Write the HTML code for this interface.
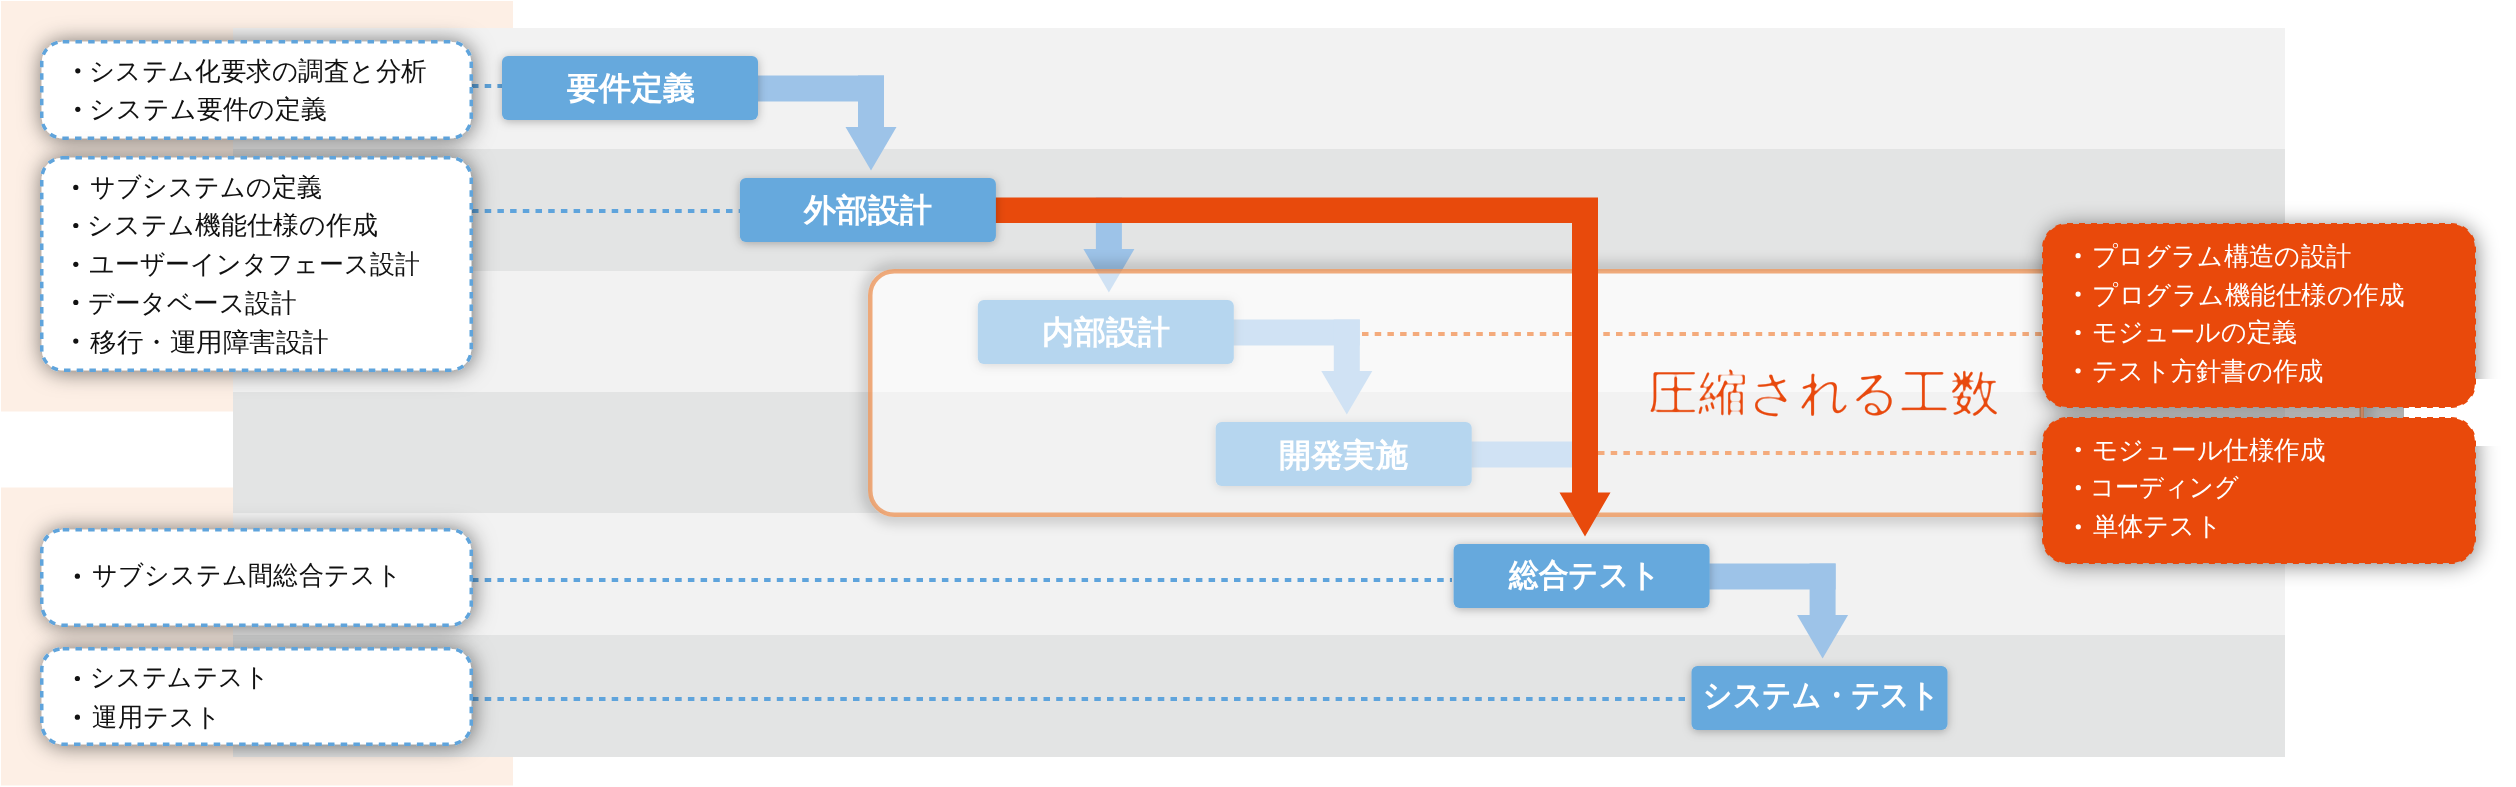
<!DOCTYPE html>
<html lang="ja"><head><meta charset="utf-8"><title>diagram</title>
<style>html,body{margin:0;padding:0;background:#fff;width:2516px;height:787px;overflow:hidden}
svg{display:block;font-family:"Liberation Sans",sans-serif;will-change:transform}</style></head>
<body><svg width="2516" height="787" viewBox="0 0 2516 787">
<defs>
<filter id="sh1" x="-20%" y="-40%" width="140%" height="180%"><feDropShadow dx="1" dy="1" stdDeviation="11" flood-color="#000" flood-opacity="0.55"/></filter>
<filter id="sh2" x="-20%" y="-40%" width="140%" height="180%"><feDropShadow dx="0" dy="1.5" stdDeviation="5" flood-color="#000" flood-opacity="0.28"/></filter>
<filter id="sh3" x="-20%" y="-40%" width="140%" height="180%"><feDropShadow dx="1" dy="3" stdDeviation="8" flood-color="#000" flood-opacity="0.3"/></filter>
<filter id="blur8" x="-20%" y="-40%" width="140%" height="180%"><feGaussianBlur stdDeviation="7"/></filter>
<filter id="thin" x="-5%" y="-20%" width="110%" height="140%"><feGaussianBlur stdDeviation="0.8"/><feComponentTransfer><feFuncA type="linear" slope="3" intercept="-1.4"/></feComponentTransfer></filter>
<filter id="blur8b" x="-20%" y="-40%" width="140%" height="180%"><feGaussianBlur stdDeviation="11"/></filter>
<mask id="outside"><rect x="0" y="0" width="2516" height="787" fill="#fff"/><rect x="868" y="269" width="1496" height="248" rx="26" fill="#000"/></mask>
</defs>
<rect x="1" y="1" width="512" height="410.5" fill="#fdefe5"/>
<rect x="1" y="487.5" width="512" height="298" fill="#fdefe5"/>
<rect x="233" y="28" width="2052" height="121" fill="#f2f2f2"/>
<rect x="233" y="149" width="2052" height="122" fill="#e3e4e4"/>
<rect x="233" y="271" width="2052" height="121" fill="#f2f2f2"/>
<rect x="233" y="392" width="2052" height="121" fill="#e3e4e4"/>
<rect x="233" y="513" width="2052" height="122" fill="#f2f2f2"/>
<rect x="233" y="635" width="2052" height="122" fill="#e3e4e4"/>
<line x1="472" y1="86" x2="502" y2="86" stroke="#5fa4dc" stroke-width="4" stroke-dasharray="6.5 6.2"/>
<line x1="472" y1="211" x2="740" y2="211" stroke="#5fa4dc" stroke-width="4" stroke-dasharray="6.5 6.2"/>
<line x1="472" y1="580" x2="1452" y2="580" stroke="#5fa4dc" stroke-width="4" stroke-dasharray="6.5 6.2"/>
<line x1="472" y1="699" x2="1688" y2="699" stroke="#5fa4dc" stroke-width="4" stroke-dasharray="6.5 6.2"/>
<rect x="41.75" y="41.75" width="429.5" height="96.5" rx="21" ry="21" fill="#fff" stroke="#5fa4dc" stroke-width="3.5" stroke-dasharray="6.5 6.2" filter="url(#sh1)"/>
<rect x="41.75" y="157.75" width="429.5" height="212.5" rx="21" ry="21" fill="#fff" stroke="#5fa4dc" stroke-width="3.5" stroke-dasharray="6.5 6.2" filter="url(#sh1)"/>
<rect x="41.75" y="529.75" width="429.5" height="95.5" rx="21" ry="21" fill="#fff" stroke="#5fa4dc" stroke-width="3.5" stroke-dasharray="6.5 6.2" filter="url(#sh1)"/>
<rect x="41.75" y="648.75" width="429.5" height="95.5" rx="21" ry="21" fill="#fff" stroke="#5fa4dc" stroke-width="3.5" stroke-dasharray="6.5 6.2" filter="url(#sh1)"/>
<text x="89.00" y="79.96" font-size="26" fill="#111" font-weight="normal" textLength="337.61" lengthAdjust="spacingAndGlyphs">システム化要求の調査と分析</text>
<text x="89.00" y="118.46" font-size="26" fill="#111" font-weight="normal" textLength="238.18" lengthAdjust="spacingAndGlyphs">システム要件の定義</text>
<text x="90.00" y="196.16" font-size="26" fill="#111" font-weight="normal" textLength="232.52" lengthAdjust="spacingAndGlyphs">サブシステムの定義</text>
<text x="87.00" y="234.36" font-size="26" fill="#111" font-weight="normal" textLength="290.58" lengthAdjust="spacingAndGlyphs">システム機能仕様の作成</text>
<text x="89.00" y="273.46" font-size="26" fill="#111" font-weight="normal" textLength="330.64" lengthAdjust="spacingAndGlyphs">ユーザーインタフェース設計</text>
<text x="88.00" y="311.66" font-size="26" fill="#111" font-weight="normal" textLength="208.34" lengthAdjust="spacingAndGlyphs">データベース設計</text>
<text x="90.00" y="351.06" font-size="26" fill="#111" font-weight="normal" textLength="238.91" lengthAdjust="spacingAndGlyphs">移行・運用障害設計</text>
<text x="92.40" y="584.26" font-size="26" fill="#111" font-weight="normal" textLength="309.23" lengthAdjust="spacingAndGlyphs">サブシステム間総合テスト</text>
<text x="90.40" y="686.36" font-size="26" fill="#111" font-weight="normal" textLength="179.07" lengthAdjust="spacingAndGlyphs">システムテスト</text>
<text x="92.40" y="726.26" font-size="26" fill="#111" font-weight="normal" textLength="129.02" lengthAdjust="spacingAndGlyphs">運用テスト</text>
<circle cx="77.8" cy="70.8" r="2.6" fill="#111"/>
<circle cx="77.8" cy="109.3" r="2.6" fill="#111"/>
<circle cx="75.8" cy="187.4" r="2.6" fill="#111"/>
<circle cx="75.8" cy="225.5" r="2.6" fill="#111"/>
<circle cx="75.8" cy="264.3" r="2.6" fill="#111"/>
<circle cx="75.8" cy="302.4" r="2.6" fill="#111"/>
<circle cx="75.8" cy="341.1" r="2.6" fill="#111"/>
<circle cx="77.4" cy="576.2" r="2.6" fill="#111"/>
<circle cx="77.4" cy="678.5" r="2.6" fill="#111"/>
<circle cx="77.4" cy="717.2" r="2.6" fill="#111"/>
<rect x="754" y="75.5" width="130" height="26" fill="#9dc3e8"/><rect x="858" y="75.5" width="26" height="51.5" fill="#9dc3e8"/><polygon points="845.5,127 896.5,127 871,170.5" fill="#9dc3e8"/>
<rect x="1095.9" y="197.5" width="26" height="51.5" fill="#9dc3e8"/><polygon points="1083.4,249 1134.4,249 1108.9,292.5" fill="#9dc3e8"/>
<rect x="1229.8" y="319.5" width="130" height="26" fill="#9dc3e8"/><rect x="1333.8" y="319.5" width="26" height="51.5" fill="#9dc3e8"/><polygon points="1321.3,371 1372.3,371 1346.8,414.5" fill="#9dc3e8"/>
<rect x="1467.7" y="441.5" width="110" height="26" fill="#9dc3e8"/>
<rect x="1705.6" y="563.5" width="130" height="26" fill="#9dc3e8"/><rect x="1809.6" y="563.5" width="26" height="51.5" fill="#9dc3e8"/><polygon points="1797.1,615 1848.1,615 1822.6,658.5" fill="#9dc3e8"/>
<rect x="977.8" y="300" width="256" height="64" rx="6" fill="#66a9dd" filter="url(#sh2)"/>
<text x="1042.00" y="342.92" font-size="32" font-weight="bold" fill="#fff" textLength="128.21" lengthAdjust="spacingAndGlyphs">内部設計</text>
<rect x="1215.7" y="422" width="256" height="64" rx="6" fill="#66a9dd" filter="url(#sh2)"/>
<text x="1279.40" y="465.62" font-size="32" font-weight="bold" fill="#fff" textLength="128.21" lengthAdjust="spacingAndGlyphs">開発実施</text>
<g mask="url(#outside)"><rect x="868" y="269" width="1496" height="248" rx="26" fill="none" stroke="#000" stroke-opacity="0.28" stroke-width="8" filter="url(#blur8)"/></g>
<rect x="870.25" y="271.25" width="1491.5" height="243.5" rx="24" fill="#fff" fill-opacity="0.52" stroke="#ea8a4a" stroke-opacity="0.72" stroke-width="4.5"/>
<line x1="1362" y1="334" x2="2044" y2="334" stroke="#f4ab7c" stroke-width="4" stroke-dasharray="6.5 6.2"/>
<line x1="1598" y1="453" x2="2044" y2="453" stroke="#f4ab7c" stroke-width="4" stroke-dasharray="6.5 6.2"/>
<path d="M990 197.5 H1598 V492.5 H1610.5 L1585 536.5 L1559.5 492.5 H1572 V223 H990 Z" fill="#e84a0c"/>
<rect x="502" y="56" width="256" height="64" rx="6" fill="#66a9dd" filter="url(#sh2)"/>
<text x="566.60" y="99.22" font-size="32" font-weight="bold" fill="#fff" textLength="128.21" lengthAdjust="spacingAndGlyphs">要件定義</text>
<rect x="739.9" y="178" width="256" height="64" rx="6" fill="#66a9dd" filter="url(#sh2)"/>
<text x="804.20" y="221.42" font-size="32" font-weight="bold" fill="#fff" textLength="128.11" lengthAdjust="spacingAndGlyphs">外部設計</text>
<rect x="1453.6" y="544" width="256" height="64" rx="6" fill="#66a9dd" filter="url(#sh2)"/>
<text x="1509.20" y="586.02" font-size="32" font-weight="bold" fill="#fff" textLength="150.89" lengthAdjust="spacingAndGlyphs">総合テスト</text>
<rect x="1691.5" y="666" width="256" height="64" rx="6" fill="#66a9dd" filter="url(#sh2)"/>
<text x="1702.80" y="706.42" font-size="32" font-weight="bold" fill="#fff" textLength="237.11" lengthAdjust="spacingAndGlyphs">システム・テスト</text>
<text x="1648.00" y="410.35" font-size="50" fill="#e84a0c" filter="url(#thin)" textLength="351.87" lengthAdjust="spacingAndGlyphs">圧縮される工数</text>
<g filter="url(#blur8b)" opacity="0.5"><rect x="2044" y="226" width="432" height="183" rx="24" fill="#000"/><rect x="2044" y="420" width="432" height="145" rx="24" fill="#000"/></g>
<rect x="2404" y="379" width="112" height="67" fill="#fff"/>
<rect x="2361" y="405" width="2.5" height="14" fill="#c8845f"/>
<rect x="2043" y="224" width="432" height="183" rx="24" fill="#e9490b" stroke="#e9490b" stroke-width="2" stroke-dasharray="6 6"/>
<rect x="2043" y="418" width="432" height="145" rx="24" fill="#e9490b" stroke="#e9490b" stroke-width="2" stroke-dasharray="6 6"/>
<text x="2092.00" y="265.26" font-size="26" fill="#fff" font-weight="normal" textLength="259.46" lengthAdjust="spacingAndGlyphs">プログラム構造の設計</text>
<text x="2092.00" y="304.06" font-size="26" fill="#fff" font-weight="normal" textLength="312.25" lengthAdjust="spacingAndGlyphs">プログラム機能仕様の作成</text>
<text x="2092.00" y="341.36" font-size="26" fill="#fff" font-weight="normal" textLength="205.47" lengthAdjust="spacingAndGlyphs">モジュールの定義</text>
<text x="2092.00" y="380.46" font-size="26" fill="#fff" font-weight="normal" textLength="231.43" lengthAdjust="spacingAndGlyphs">テスト方針書の作成</text>
<text x="2091.80" y="458.56" font-size="26" fill="#fff" font-weight="normal" textLength="233.49" lengthAdjust="spacingAndGlyphs">モジュール仕様作成</text>
<text x="2089.80" y="495.76" font-size="26" fill="#fff" font-weight="normal" textLength="149.74" lengthAdjust="spacingAndGlyphs">コーディング</text>
<text x="2092.60" y="535.46" font-size="26" fill="#fff" font-weight="normal" textLength="129.22" lengthAdjust="spacingAndGlyphs">単体テスト</text>
<circle cx="2078.1" cy="255.7" r="2.6" fill="#fff"/>
<circle cx="2078.1" cy="294.1" r="2.6" fill="#fff"/>
<circle cx="2078.1" cy="332.5" r="2.6" fill="#fff"/>
<circle cx="2078.1" cy="370.8" r="2.6" fill="#fff"/>
<circle cx="2078.3" cy="449.6" r="2.6" fill="#fff"/>
<circle cx="2078.3" cy="487.7" r="2.6" fill="#fff"/>
<circle cx="2078.3" cy="526.8" r="2.6" fill="#fff"/>
</svg></body></html>
